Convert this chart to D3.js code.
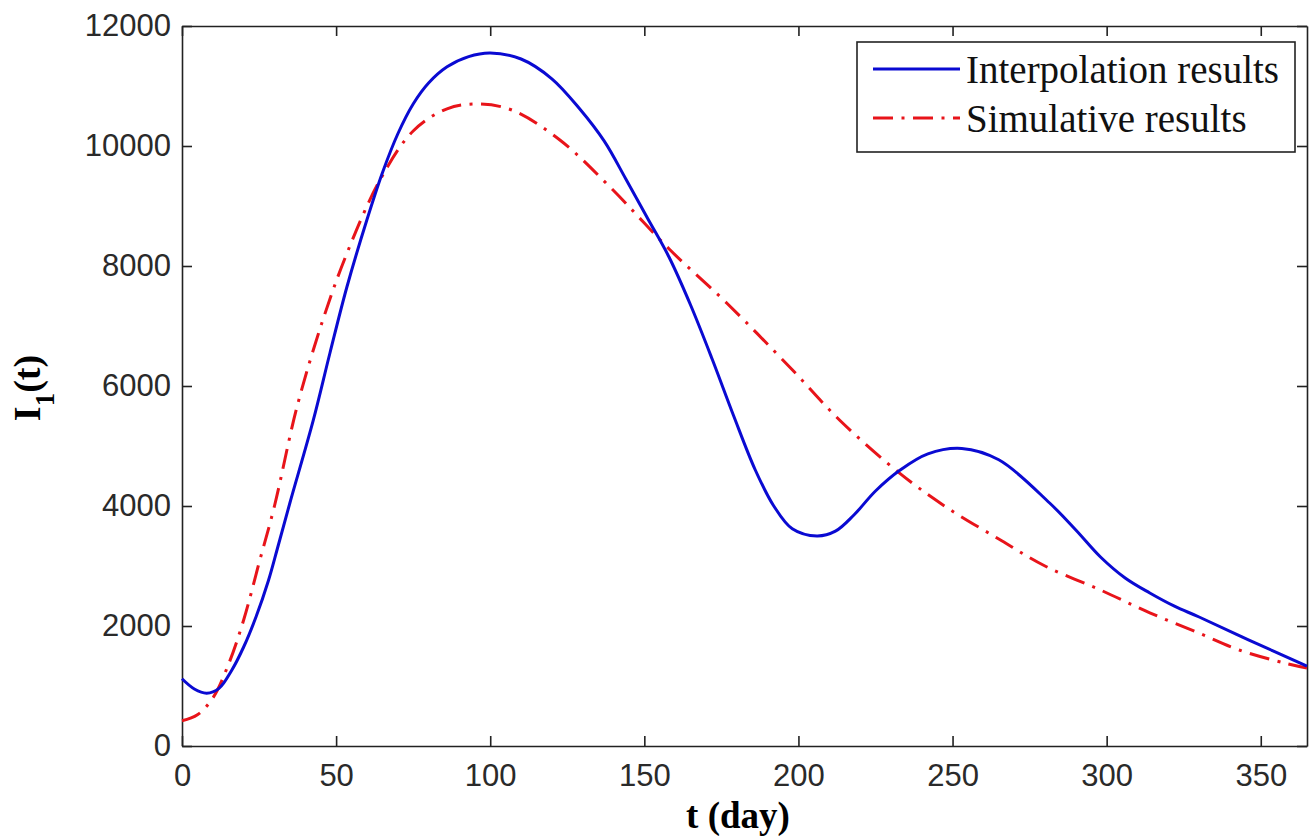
<!DOCTYPE html>
<html>
<head>
<meta charset="utf-8">
<script src="https://cdn.jsdelivr.net/npm/d3@7"></script>
<style>
  body { margin: 0; background: #fff; }
  svg { display: block; }
</style>
</head>
<body>
<svg id="chart" width="1311" height="836"></svg>
<script>
// values
const tInterp = [0, 4, 8, 12, 16, 20, 24, 28, 31, 35, 42.6, 48, 53.5, 60, 65, 70, 75, 80, 86, 93, 100, 110, 120, 129, 137, 144, 151, 158, 165, 172, 179, 186, 192, 198, 206, 212, 218, 225, 233, 242, 253, 265, 281.5, 290, 298, 306, 314, 322, 330, 346, 365];
const interpValues = [1120, 950, 880, 960, 1250, 1650, 2150, 2750, 3300, 4050, 5430, 6550, 7650, 8770, 9550, 10200, 10700, 11050, 11320, 11490, 11550, 11450, 11120, 10620, 10080, 9450, 8800, 8150, 7350, 6450, 5500, 4600, 4000, 3620, 3500, 3580, 3850, 4250, 4600, 4870, 4960, 4770, 4050, 3600, 3150, 2800, 2550, 2330, 2150, 1770, 1330];

const tSim = [0, 5, 10, 15, 20, 25, 30, 37.3, 45.7, 53.5, 64.2, 75, 86, 96, 107, 122.6, 138.8, 158.3, 176.8, 198, 213.4, 233, 248, 265, 280, 298, 314, 330, 343, 358, 365];
const simValues = [420, 520, 800, 1350, 2100, 3050, 4000, 5650, 7100, 8210, 9430, 10250, 10620, 10700, 10600, 10100, 9320, 8270, 7380, 6270, 5430, 4540, 3980, 3450, 3000, 2600, 2220, 1880, 1600, 1380, 1300];

const xTicks = [0, 50, 100, 150, 200, 250, 300, 350];
const yTicks = [0, 2000, 4000, 6000, 8000, 10000, 12000];
const seriesNames = ["Interpolation results", "Simulative results"];

const svg = d3.select("#chart");
const LEFT = 182, RIGHT = 1307, TOP = 26, BOTTOM = 746;
const BLUE = "#0a0ad2", RED = "#e8141a";
const DASH = "20,8.5,3,8.5";

const x = d3.scaleLinear().domain([0, 365]).range([LEFT, RIGHT]);
const y = d3.scaleLinear().domain([0, 12000]).range([BOTTOM, TOP]);

function styleAxis(g) {
    g.select(".domain").attr("stroke", "#222").attr("stroke-width", 1.6);
    g.selectAll(".tick line").attr("stroke", "#222").attr("stroke-width", 1.6);
    g.selectAll(".tick text")
     .attr("fill", "#2a2a2a")
     .style("font-family", "'Liberation Sans', Arial, sans-serif")
     .style("font-size", "31px");
}

// bottom / left with labels, ticks pointing inward
svg.append("g")
   .attr("transform", `translate(0, ${BOTTOM})`)
   .call(d3.axisBottom(x).tickValues(xTicks).tickSize(-10).tickSizeOuter(0)
           .tickPadding(18).tickFormat(d3.format("d")))
   .call(styleAxis);

svg.append("g")
   .attr("transform", `translate(${LEFT}, 0)`)
   .call(d3.axisLeft(y).tickValues(yTicks).tickSize(-10).tickSizeOuter(0)
           .tickPadding(11).tickFormat(d3.format("d")))
   .call(styleAxis);

// top / right, box
svg.append("g")
   .attr("transform", `translate(0, ${TOP})`)
   .call(d3.axisTop(x).tickValues(xTicks).tickSize(-10).tickSizeOuter(0).tickFormat(""))
   .call(styleAxis);

svg.append("g")
   .attr("transform", `translate(${RIGHT}, 0)`)
   .call(d3.axisRight(y).tickValues(yTicks).tickSize(-10).tickSizeOuter(0).tickFormat(""))
   .call(styleAxis);

const line = d3.line()
               .x(d => x(d[0]))
               .y(d => y(d[1]))
               .curve(d3.curveCatmullRom.alpha(0.5));

svg.append("path")
   .datum(d3.zip(tSim, simValues))
   .attr("d", line)
   .attr("fill", "none")
   .attr("stroke", RED)
   .attr("stroke-width", 3)
   .attr("stroke-dasharray", DASH);

svg.append("path")
   .datum(d3.zip(tInterp, interpValues))
   .attr("d", line)
   .attr("fill", "none")
   .attr("stroke", BLUE)
   .attr("stroke-width", 3);

// axis titles
svg.append("text")
   .attr("x", 738)
   .attr("y", 828)
   .attr("text-anchor", "middle")
   .style("font-family", "'Liberation Serif', 'Times New Roman', serif")
   .style("font-weight", "bold")
   .style("font-size", "37px")
   .text("t (day)");

const yLab = svg.append("text")
   .attr("transform", "translate(40, 388) rotate(-90)")
   .attr("text-anchor", "middle")
   .style("font-family", "'Liberation Serif', 'Times New Roman', serif")
   .style("font-weight", "bold")
   .style("font-size", "38px");
yLab.append("tspan").text("I");
yLab.append("tspan").attr("dy", 14).style("font-size", "27px").text("1");
yLab.append("tspan").attr("dy", -14).text("(t)");

// legend
const legend = svg.append("g");
legend.append("rect")
      .attr("x", 857).attr("y", 42)
      .attr("width", 438).attr("height", 110)
      .attr("fill", "#fff")
      .attr("stroke", "#222")
      .attr("stroke-width", 1.6);

const legendRows = [
    {name: seriesNames[0], color: BLUE, dash: null, ly: 69},
    {name: seriesNames[1], color: RED, dash: DASH, ly: 118}
];
legendRows.forEach(r => {
    legend.append("line")
          .attr("x1", 873).attr("x2", 960)
          .attr("y1", r.ly).attr("y2", r.ly)
          .attr("stroke", r.color)
          .attr("stroke-width", 3)
          .attr("stroke-dasharray", r.dash);
    legend.append("text")
          .attr("x", 966)
          .attr("y", r.ly + 14)
          .style("font-family", "'Liberation Serif', 'Times New Roman', serif")
          .style("font-size", "39px")
          .attr("fill", "#111")
          .text(r.name);
});
</script>
</body>
</html>
